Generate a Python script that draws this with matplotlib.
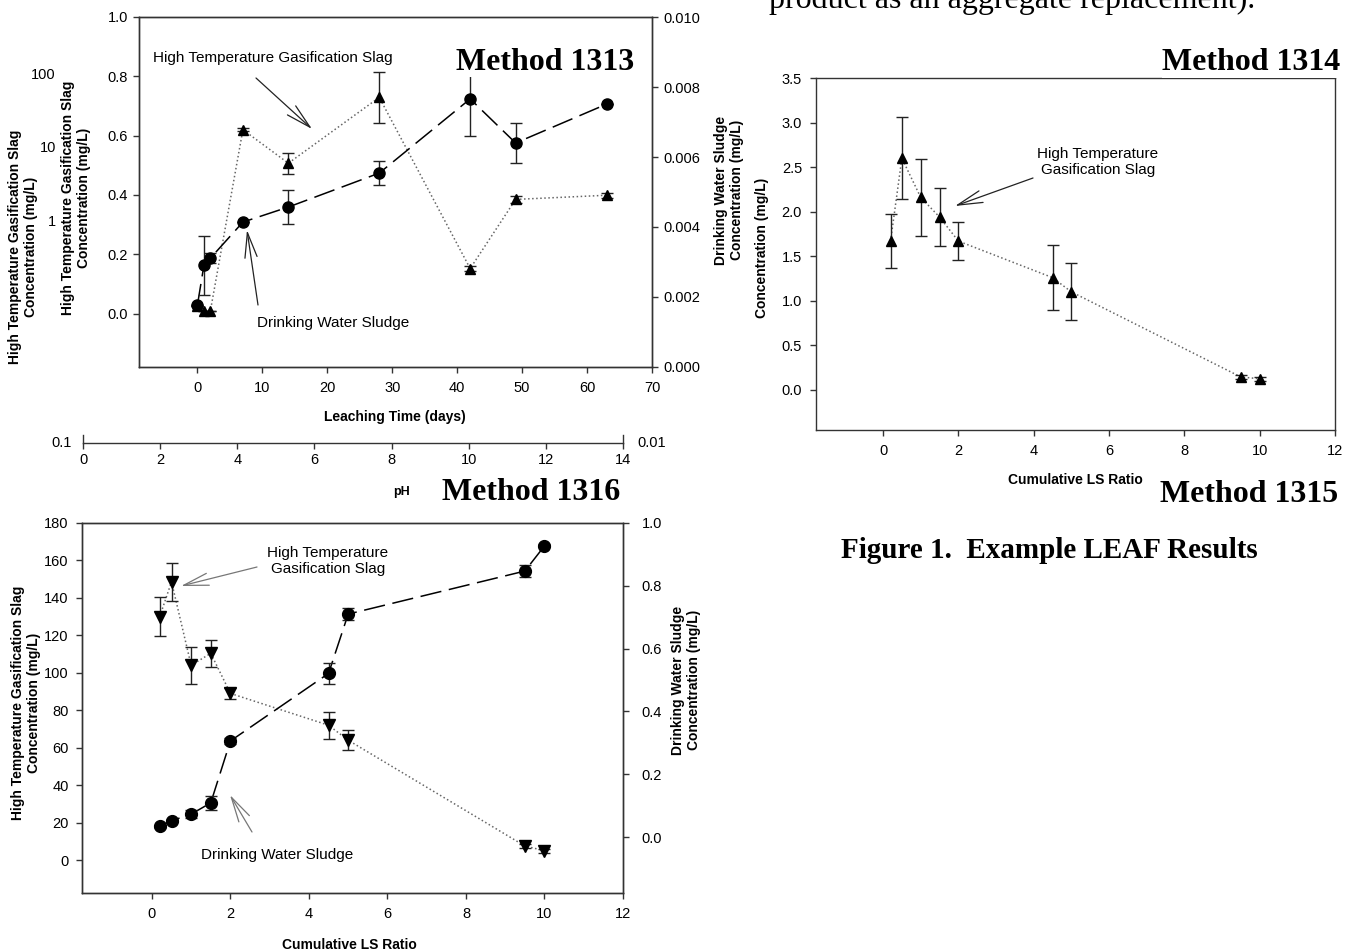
import matplotlib
matplotlib.use('Agg')
import matplotlib.pyplot as plt
from matplotlib.ticker import FormatStrFormatter, MultipleLocator

W, H = 1351, 951
plt.rcParams['font.family'] = ['Liberation Sans', 'DejaVu Sans']

# ---------------- data ----------------
# Method 1313 (leaching time, days)
m1313_days = [0, 1, 2, 7, 14, 28, 42, 49, 63]
m1313_slag = [0.025, 0.01, 0.01, 0.62, 0.507, 0.729, 0.152, 0.385, 0.399]
m1313_slag_err = [0, 0, 0, 0.005, 0.036, 0.087, 0.01, 0.012, 0.008]
m1313_sludge = [0.00177, 0.00291, 0.00311, 0.00414, 0.00457, 0.00554, 0.00766, 0.0064, 0.00751]
m1313_sludge_err = [0, 0.00084, 0.00014, 0, 0.00049, 0.00035, 0.00106, 0.00057, 0]

# Method 1314 (cumulative LS ratio)
m1314_ls = [0.2, 0.5, 1.0, 1.5, 2.0, 4.5, 5.0, 9.5, 10.0]
m1314_slag = [1.67, 2.60, 2.16, 1.94, 1.67, 1.26, 1.10, 0.145, 0.125]
m1314_slag_err = [0.30, 0.46, 0.43, 0.33, 0.215, 0.365, 0.32, 0.02, 0.02]

# Method 1316 (cumulative LS ratio)
m1316_ls = [0.2, 0.5, 1.0, 1.5, 2.0, 4.5, 5.0, 9.5, 10.0]
m1316_slag = [130, 148.6, 104, 110.4, 89, 72, 64, 7.5, 5]
m1316_slag_err = [10.3, 10.2, 10, 7.1, 3, 7.1, 5.3, 1, 1]
m1316_sludge = [0.035, 0.052, 0.073, 0.109, 0.306, 0.521, 0.710, 0.847, 0.927]
m1316_sludge_err = [0.005, 0.005, 0.013, 0.023, 0.011, 0.032, 0.018, 0.018, 0.005]

ph_ticks = list(range(0, 15, 2))
log_labels = ['100', '10', '1']

# ---------------- helpers ----------------
def fx(x):
    return x / W

def fy(y):
    return 1 - y / H

def box(x0, y0, x1, y1):
    return [x0 / W, 1 - y1 / H, (x1 - x0) / W, (y1 - y0) / H]

SP = '#333333'
TICK = 10.5
LAB = 10
ANN = 11

def style(ax):
    for s in ax.spines.values():
        s.set_color(SP)
        s.set_linewidth(1.0)
    ax.tick_params(direction='out', length=4.5, width=1, color=SP, labelsize=TICK)

def slag_series(ax, x, y, err, marker, ms):
    ax.plot(x, y, ls=':', color='#666666', lw=1.1, zorder=2)
    ax.errorbar(x, y, yerr=err, fmt=marker, ms=ms, color='black', ecolor='#222222',
                elinewidth=1, capsize=4.5, capthick=1, zorder=3)

def sludge_series(ax, x, y, err, ms):
    ax.plot(x, y, color='black', lw=1.1, dashes=(14, 5), zorder=2)
    ax.errorbar(x, y, yerr=err, fmt='o', ms=ms, color='black', ecolor='#222222',
                elinewidth=1, capsize=4.5, capthick=1, zorder=3)

def arrow(tail, tip, color='#222222'):
    fig.add_artist(matplotlib.patches.FancyArrowPatch(
        (fx(tail[0]), fy(tail[1])), (fx(tip[0]), fy(tip[1])),
        transform=fig.transFigure, arrowstyle='->,head_length=0.9,head_width=0.22',
        mutation_scale=20, color=color, lw=0.9, shrinkA=0, shrinkB=0))

def vlabel(x, y, s, size=LAB):
    fig.text(fx(x), fy(y), s, rotation=90, ha='center', va='center', fontsize=size,
             fontweight='bold', multialignment='center', linespacing=1.1)

def method(x, y, s):
    fig.text(fx(x), fy(y), s, ha='right', va='center', fontsize=23, fontweight='bold',
             family='Liberation Serif', zorder=10,
             bbox=dict(facecolor='white', edgecolor='none', pad=0))

fig = plt.figure(figsize=(W / 100, H / 100), dpi=100)
fig.patch.set_facecolor('white')

# ---------------- Method 1313 ----------------
ax1 = fig.add_axes(box(139, 17, 652, 367))
style(ax1)
ax1.set_xlim(-9, 70)
ax1.set_ylim(-0.18, 1.0)
ax1.set_xticks(range(0, 71, 10))
ax1.set_yticks([0, 0.2, 0.4, 0.6, 0.8, 1.0])
ax1.yaxis.set_major_formatter(FormatStrFormatter('%.1f'))
ax1.tick_params(axis='x', pad=5.5)
ax1.tick_params(axis='y', pad=3.5)
slag_series(ax1, m1313_days, m1313_slag, m1313_slag_err, '^', 7)
ax1.set_xlabel('Leaching Time (days)', fontsize=LAB, fontweight='bold', va='center')
ax1.xaxis.set_label_coords(0.499, -0.143)

ax1b = ax1.twinx()
style(ax1b)
ax1b.set_ylim(0, 0.010)
ax1b.set_yticks([0, 0.002, 0.004, 0.006, 0.008, 0.010])
ax1b.yaxis.set_major_formatter(FormatStrFormatter('%.3f'))
ax1b.tick_params(axis='y', pad=4)
sludge_series(ax1b, m1313_days, m1313_sludge, m1313_sludge_err, 8)

# pH axis fragment
axp = fig.add_axes(box(83, 435, 623, 443))
axp.set_facecolor('none')
style(axp)
axp.spines['top'].set_visible(False)
axp.set_xlim(0, 14)
axp.set_ylim(0, 1)
axp.set_yticks([])
axp.set_xticks(ph_ticks)
axp.tick_params(axis='x', pad=3)
axp.set_xlabel('pH', fontsize=9, fontweight='bold', va='center')
axp.xaxis.set_label_coords(0.59, -6.1)
fig.text(fx(72), fy(443), '0.1', ha='right', va='center', fontsize=TICK)
fig.text(fx(637), fy(443), '0.01', ha='left', va='center', fontsize=TICK)
for lab, yy in zip(log_labels, [75, 148, 222]):
    fig.text(fx(56), fy(yy), lab, ha='right', va='center', fontsize=TICK)

vlabel(23, 247, 'High Temperature Gasification Slag\nConcentration (mg/L)')
vlabel(76, 198, 'High Temperature Gasification Slag\nConcentration (mg/L)')
vlabel(729, 190, 'Drinking Water Sludge\nConcentration (mg/L)')
vlabel(762, 248, 'Concentration (mg/L)')

fig.text(fx(153), fy(58), 'High Temperature Gasification Slag', ha='left', va='center', fontsize=ANN)
fig.text(fx(257), fy(323), 'Drinking Water Sludge', ha='left', va='center', fontsize=ANN)
arrow((256, 78), (312, 129))
arrow((258, 305), (247, 230))
method(634, 62, 'Method 1313')

# ---------------- Method 1314 ----------------
ax3 = fig.add_axes(box(816, 78, 1335, 430))
style(ax3)
ax3.set_xlim(-1.78, 12)
ax3.set_ylim(-0.45, 3.5)
ax3.set_xticks(range(0, 13, 2))
ax3.set_yticks([0, 0.5, 1.0, 1.5, 2.0, 2.5, 3.0, 3.5])
ax3.yaxis.set_major_formatter(FormatStrFormatter('%.1f'))
ax3.tick_params(axis='x', pad=5.5)
ax3.tick_params(axis='y', pad=5.5)
slag_series(ax3, m1314_ls, m1314_slag, m1314_slag_err, '^', 7.5)
ax3.set_xlabel('Cumulative LS Ratio', fontsize=LAB, fontweight='bold', va='center')
ax3.xaxis.set_label_coords(0.499, -0.142)
fig.text(fx(1098), fy(162), 'High Temperature\nGasification Slag', ha='center', va='center',
         fontsize=ANN, multialignment='center', linespacing=1.15)
arrow((1033, 178), (955, 206))
method(1340, 63, 'Method 1314')
method(1338, 494, 'Method 1315')

# ---------------- Method 1316 ----------------
ax4 = fig.add_axes(box(82, 523, 623, 893))
style(ax4)
ax4.set_xlim(-1.78, 12)
ax4.set_ylim(-17.6, 180)
ax4.set_xticks(range(0, 13, 2))
ax4.set_yticks(range(0, 181, 20))
ax4.tick_params(axis='x', pad=5.5)
ax4.tick_params(axis='y', pad=5)
slag_series(ax4, m1316_ls, m1316_slag, m1316_slag_err, 'v', 8)
ax4.set_xlabel('Cumulative LS Ratio', fontsize=LAB, fontweight='bold', va='center')
ax4.xaxis.set_label_coords(0.495, -0.1405)

ax4b = ax4.twinx()
style(ax4b)
ax4b.set_ylim(-0.178, 1.0)
ax4b.set_yticks([0, 0.2, 0.4, 0.6, 0.8, 1.0])
ax4b.yaxis.set_major_formatter(FormatStrFormatter('%.1f'))
ax4b.tick_params(axis='y', pad=9)
sludge_series(ax4b, m1316_ls, m1316_sludge, m1316_sludge_err, 8.5)

vlabel(26, 703, 'High Temperature Gasification Slag\nConcentration (mg/L)')
vlabel(686, 680, 'Drinking Water Sludge\nConcentration (mg/L)')
fig.text(fx(328), fy(561), 'High Temperature\nGasification Slag', ha='center', va='center',
         fontsize=ANN, multialignment='center', linespacing=1.15)
fig.text(fx(277), fy(855), 'Drinking Water Sludge', ha='center', va='center', fontsize=ANN)
arrow((257, 567), (181, 586), color='#777777')
arrow((252, 832), (230, 795), color='#777777')
method(620, 492, 'Method 1316')

# ---------------- document text ----------------
fig.text(fx(1049), fy(551), 'Figure 1.  Example LEAF Results', ha='center', va='center',
         fontsize=21, fontweight='bold', family='Liberation Serif')
fig.text(fx(769), fy(8), 'product as an aggregate replacement).', ha='left', va='baseline',
         fontsize=23, family='Liberation Serif')

fig.savefig('out.png', dpi=100)
